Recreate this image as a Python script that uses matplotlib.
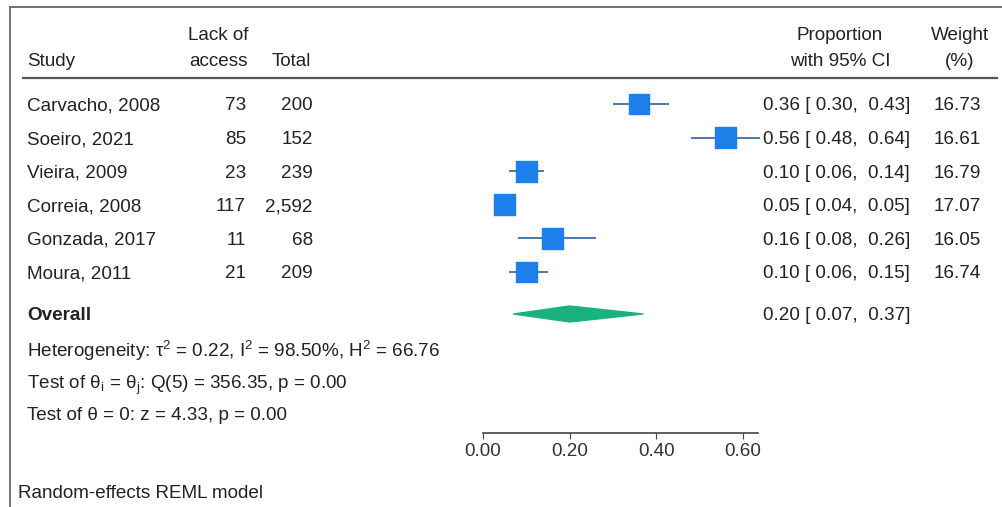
import matplotlib
matplotlib.use("Agg")
import matplotlib.pyplot as plt
from matplotlib import transforms
from matplotlib.lines import Line2D

plt.rcParams['font.family'] = ['Liberation Sans', 'DejaVu Sans']
plt.rcParams['mathtext.fontset'] = 'custom'
plt.rcParams['mathtext.rm'] = 'Liberation Sans'
plt.rcParams['mathtext.it'] = 'Liberation Sans:italic'

# data
studies = ["Carvacho, 2008", "Soeiro, 2021", "Vieira, 2009",
           "Correia, 2008", "Gonzada, 2017", "Moura, 2011"]
lack_of_access = ["73", "85", "23", "117", "11", "21"]
totals = ["200", "152", "239", "2,592", "68", "209"]
prop = [0.36, 0.56, 0.10, 0.05, 0.16, 0.10]
ci_low = [0.30, 0.48, 0.06, 0.04, 0.08, 0.06]
ci_high = [0.43, 0.64, 0.14, 0.05, 0.26, 0.15]
weights = [16.73, 16.61, 16.79, 17.07, 16.05, 16.74]
overall = [0.20, 0.07, 0.37]
xticks = [0.0, 0.2, 0.4, 0.6]

W, H = 1002, 507
fig = plt.figure(figsize=(W / 100, H / 100), dpi=100)

def fx(px):
    return px / W

def fy(py):
    return 1 - py / H

# forest axes: x 0..0.6 maps to pixels 483..743, rows spaced ~33.6 px
row0, step = 104, 33.6
ax_top, ax_bot = 78, 433
ax = fig.add_axes([fx(483), fy(ax_bot), fx(743) - fx(483), fy(ax_top) - fy(ax_bot)])
ax.set_xlim(0, 0.6)
ax.set_ylim((ax_bot - row0) / step, (ax_top - row0) / step)
for s in ['top', 'right', 'left']:
    ax.spines[s].set_visible(False)
ax.spines['bottom'].set_bounds(0, 0.635)
ax.spines['bottom'].set_color('#444444')
ax.spines['bottom'].set_linewidth(1.2)
ax.set_yticks([])
ax.set_xticks(xticks)
ax.set_xticklabels([f"{t:.2f}" for t in xticks])
fs = 13.6
ax.tick_params(axis='x', length=4, color='#444444', labelsize=fs, labelcolor='#333333', pad=3)
ax.patch.set_visible(False)

text_c = '#222222'
rows = list(range(len(studies)))
ov_row = (314 - row0) / step
va = 'center_baseline'

ax.hlines(rows, ci_low, ci_high, color='#3a6ea5', lw=1.3, zorder=2, clip_on=False)
ax.scatter(prop, rows, marker='s', s=[w * 13.5 for w in weights],
           color='#1f7fea', edgecolor='#1f7fea', zorder=3, clip_on=False)

est, lo, hi = overall
dh = 8 / step
ax.fill([lo, est, hi, est], [ov_row, ov_row - dh, ov_row, ov_row + dh],
        color='#19b27e', zorder=3, clip_on=False)

tr = transforms.blended_transform_factory(fig.transFigure, ax.transData)
for i in rows:
    ax.text(fx(27), i, studies[i], transform=tr, ha='left', va=va, fontsize=fs, color=text_c)
    ax.text(fx(246), i, lack_of_access[i], transform=tr, ha='right', va=va, fontsize=fs, color=text_c)
    ax.text(fx(313), i, totals[i], transform=tr, ha='right', va=va, fontsize=fs, color=text_c)
    ax.text(fx(763), i, f"{prop[i]:.2f} [ {ci_low[i]:.2f},  {ci_high[i]:.2f}]",
            transform=tr, ha='left', va=va, fontsize=fs, color=text_c)
    ax.text(fx(981), i, f"{weights[i]:.2f}", transform=tr, ha='right', va=va, fontsize=fs, color=text_c)

ax.text(fx(27), ov_row, "Overall", transform=tr, ha='left', va=va,
        fontsize=fs, color=text_c, fontweight='bold')
ax.text(fx(763), ov_row, f"{est:.2f} [ {lo:.2f},  {hi:.2f}]", transform=tr,
        ha='left', va=va, fontsize=fs, color=text_c)

# heterogeneity / test lines
fig.text(fx(27), fy(348), r"Heterogeneity: τ$^{2}$ = 0.22, I$^{2}$ = 98.50%, H$^{2}$ = 66.76",
         ha='left', va=va, fontsize=fs, color=text_c)
fig.text(fx(27), fy(381), r"Test of θ$_\mathrm{i}$ = θ$_\mathrm{j}$: Q(5) = 356.35, p = 0.00",
         ha='left', va=va, fontsize=fs, color=text_c)
fig.text(fx(27), fy(414), "Test of θ = 0: z = 4.33, p = 0.00",
         ha='left', va=va, fontsize=fs, color=text_c)
fig.text(fx(18), fy(492), "Random-effects REML model", ha='left', va=va,
         fontsize=fs, color=text_c)

# header
fig.text(fx(27), fy(60), "Study", ha='left', va=va, fontsize=fs, color=text_c)
fig.text(fx(218), fy(33), "Lack of", ha='center', va=va, fontsize=fs, color=text_c)
fig.text(fx(218), fy(60), "access", ha='center', va=va, fontsize=fs, color=text_c)
fig.text(fx(291), fy(60), "Total", ha='center', va=va, fontsize=fs, color=text_c)
fig.text(fx(840), fy(33), "Proportion", ha='center', va=va, fontsize=fs, color=text_c)
fig.text(fx(840), fy(60), "with 95% CI", ha='center', va=va, fontsize=fs, color=text_c)
fig.text(fx(960), fy(33), "Weight", ha='center', va=va, fontsize=fs, color=text_c)
fig.text(fx(960), fy(60), "(%)", ha='center', va=va, fontsize=fs, color=text_c)

# rule under header and outer frame lines
fig.add_artist(Line2D([fx(23), fx(997)], [fy(78), fy(78)], color='#555555', lw=1.6))
fig.add_artist(Line2D([fx(10), fx(1002)], [fy(7), fy(7)], color='#666666', lw=1.3))
fig.add_artist(Line2D([fx(10), fx(10)], [fy(7), fy(507)], color='#666666', lw=1.3))

fig.savefig("out.png", dpi=100, facecolor='white')
